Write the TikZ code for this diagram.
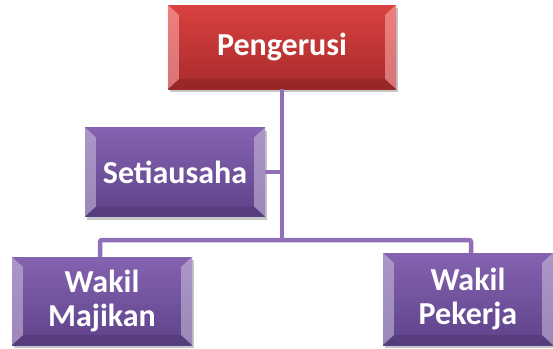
\documentclass[tikz,border=0pt]{standalone}
\usepackage{fontspec}
\setmainfont{Carlito}
\usetikzlibrary{shadows}
\definecolor{redtop}{HTML}{D9423F}
\definecolor{redbot}{HTML}{A82A2C}
\definecolor{purtop}{HTML}{8463B0}
\definecolor{purbot}{HTML}{5F428A}
\definecolor{linkcol}{HTML}{8E6FB8}
\tikzset{
  box/.style={draw=none, inner sep=0pt,
    drop shadow={shadow xshift=2pt, shadow yshift=-3pt, opacity=.45}},
  redbox/.style={box, top color=redtop, bottom color=redbot},
  purbox/.style={box, top color=purtop, bottom color=purbot},
  label/.style={text=white, align=center, inner sep=0pt,
    font=\fontsize{32}{34}\selectfont\bfseries},
  link/.style={draw=linkcol, line width=4.5pt}
}
% light bevels on the left and right sides of a box
\newcommand{\bevelbox}[2]{%
  \fill[#2, opacity=.55] (#1.north west) -- ([shift={(11,10)}]#1.north west)
    -- ([shift={(11,-10)}]#1.south west) -- (#1.south west) -- cycle;
  \fill[#2, opacity=.55] (#1.north east) -- ([shift={(-11,10)}]#1.north east)
    -- ([shift={(-11,-10)}]#1.south east) -- (#1.south east) -- cycle;
  \fill[black, opacity=.10] (#1.south west) -- ([shift={(11,-10)}]#1.south west)
    -- ([shift={(-11,-10)}]#1.south east) -- (#1.south east) -- cycle;
}
\begin{document}
\begin{tikzpicture}[x=1pt,y=-1pt]
  \useasboundingbox (0,0) rectangle (553,348);
  % boxes
  \node[redbox, minimum width=228pt, minimum height=84pt] (chair) at (282,47) {};
  \node[purbox, minimum width=180pt, minimum height=89pt] (secr) at (175,172) {};
  \node[purbox, minimum width=180pt, minimum height=88pt] (empl) at (102,301) {};
  \node[purbox, minimum width=170pt, minimum height=92pt] (work) at (468,299) {};
  \coordinate (hub) at (282,240);
  \coordinate (empltop) at (100,257);
  \coordinate (worktop) at (471,253);
  % connectors
  \draw[link] (chair.south) -- (hub);
  \draw[link] (secr.east) -- (secr.east -| hub);
  \draw[link, rounded corners=2pt] (empltop) |- (hub) -| (worktop);
  \bevelbox{chair}{red!30!white}
  \bevelbox{secr}{purtop!40!white}
  \bevelbox{empl}{purtop!40!white}
  \bevelbox{work}{purtop!40!white}
  \node[label] (chairtxt) at (chair) {Pengerusi};
  \node[label] (secrtxt) at (secr) {Setiausaha};
  \node[label] (empltxt) at (empl) {Wakil\\Majikan};
  \node[label] (worktxt) at (work) {Wakil\\Pekerja};
\end{tikzpicture}
\end{document}
